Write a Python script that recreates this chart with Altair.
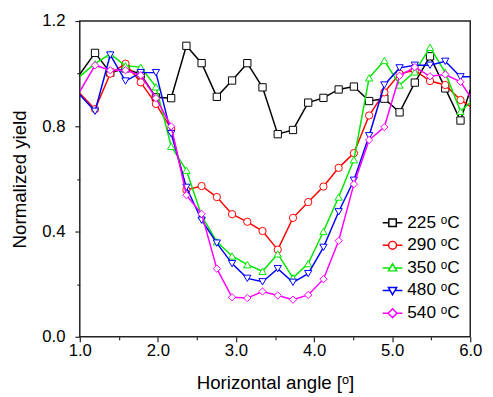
import altair as alt
import pandas as pd

# ---------------- data ----------------
angles = [1.0, 1.195, 1.39, 1.585, 1.78, 1.975, 2.17, 2.365, 2.56, 2.755, 2.95,
          3.145, 3.34, 3.535, 3.73, 3.925, 4.12, 4.315, 4.51, 4.705, 4.9, 5.095,
          5.29, 5.485, 5.68, 5.875, 6.0]

series_names = ["225 \u1d52C", "290 \u1d52C", "350 \u1d52C", "480 \u1d52C", "540 \u1d52C"]

y_225 = [0.998, 1.079, 1.004, 1.02, 0.997, 0.91, 0.907, 1.106, 1.04, 0.912, 0.974,
         1.04, 0.948, 0.77, 0.786, 0.89, 0.908, 0.94, 0.951, 0.896, 0.905, 0.853,
         0.966, 1.066, 0.944, 0.822, 0.938]
y_290 = [0.926, 0.865, 1.0, 1.038, 0.967, 0.885, 0.79, 0.558, 0.573, 0.531, 0.466,
         0.437, 0.402, 0.331, 0.452, 0.512, 0.571, 0.642, 0.698, 0.841, 0.929, 1.0,
         1.013, 0.972, 0.957, 0.90, 0.876]
y_350 = [0.99, 1.038, 1.075, 1.03, 1.025, 0.95, 0.724, 0.633, 0.46, 0.361, 0.307,
         0.274, 0.249, 0.315, 0.224, 0.278, 0.40, 0.531, 0.673, 0.984, 1.05, 0.957,
         1.007, 1.10, 1.005, 0.857, 0.89]
y_480 = [0.92, 0.857, 1.071, 0.972, 1.004, 1.004, 0.772, 0.568, 0.443, 0.356, 0.278,
         0.222, 0.209, 0.259, 0.207, 0.240, 0.34, 0.475, 0.595, 0.764, 0.957, 1.022,
         1.032, 1.032, 1.047, 0.988, 0.988]
y_540 = [0.932, 1.032, 1.013, 1.013, 0.994, 0.907, 0.80, 0.538, 0.467, 0.259, 0.150,
         0.147, 0.172, 0.157, 0.141, 0.159, 0.219, 0.365, 0.58, 0.748, 0.797, 0.992,
         1.025, 0.99, 0.997, 0.969, 0.913]

x_ticks = [1.0, 1.5, 2.0, 2.5, 3.0, 3.5, 4.0, 4.5, 5.0, 5.5, 6.0]
y_ticks = [0.0, 0.2, 0.4, 0.6, 0.8, 1.0, 1.2]

# ---------------- styles ----------------
colors = ["#000000", "#ff0000", "#00e600", "#0000ff", "#ff00ff"]
shapes = ["square", "circle", "triangle-up", "triangle-down", "diamond"]
legend_paths = [
    "M-1,0L-0.38,0M-0.38,-0.38L0.38,-0.38L0.38,0.38L-0.38,0.38ZM0.38,0L1,0",
    "M-1,0L-0.4,0M0.4,0A0.4,0.4,0,1,1,-0.4,0A0.4,0.4,0,1,1,0.4,0M0.4,0L1,0",
    "M-1,0L-0.245,0M0,-0.42L0.42,0.3L-0.42,0.3ZM0.245,0L1,0",
    "M-1,0L-0.245,0M0,0.42L0.42,-0.3L-0.42,-0.3ZM0.245,0L1,0",
    "M-1,0L-0.45,0M0,-0.45L0.45,0L0,0.45L-0.45,0ZM0.45,0L1,0",
]

rows = []
for name, ys in zip(series_names, [y_225, y_290, y_350, y_480, y_540]):
    for a, v in zip(angles, ys):
        rows.append({"angle": a, "value": v, "series": name})
df = pd.DataFrame(rows)

FONT = "Liberation Sans"

x_enc = alt.X(
    "angle:Q",
    scale=alt.Scale(domain=[1.0, 6.0], nice=False, zero=False),
    axis=alt.Axis(
        values=x_ticks,
        labelExpr="datum.value % 1 == 0 ? format(datum.value, '.1f') : ''",
        title="Horizontal angle [\u1d52]",
        tickSize={"condition": {"test": "datum.value % 1 == 0", "value": 5}, "value": 3},
        labelFlush=False,
        labelPadding=1,
        titlePadding=16,
    ),
)
y_enc = alt.Y(
    "value:Q",
    scale=alt.Scale(domain=[0.0, 1.2], nice=False, zero=False),
    axis=alt.Axis(
        values=y_ticks,
        labelExpr="round(datum.value * 5) % 2 == 0 ? format(datum.value, '.1f') : ''",
        title="Normalized yield",
        tickSize={"condition": {"test": "round(datum.value * 5) % 2 == 0", "value": 5}, "value": 3},
        labelFlush=False,
        labelPadding=10,
        titlePadding=13,
    ),
)

layers = []
for name, c, s in zip(series_names, colors, shapes):
    base = alt.Chart(df).transform_filter(alt.datum.series == name)
    layers.append(
        base.mark_line(color=c, strokeWidth=1.5, clip=True).encode(x=x_enc, y=y_enc)
    )
    layers.append(
        base.transform_filter("datum.angle > 1.001 && datum.angle < 5.999")
        .mark_point(shape=s, filled=True, fill="white", stroke=c, strokeWidth=1,
                    size=55, opacity=1, clip=True)
        .encode(x=x_enc, y=y_enc)
    )

legend_common = dict(
    title=None, orient="none", legendX=307, legendY=194, padding=0,
    symbolSize=400, symbolStrokeWidth=1.5, symbolOpacity=1,
    labelFont=FONT, labelFontSize=17.5, labelColor="#000", labelOffset=4,
    rowPadding=3,
)
legend_layer = alt.Chart(df).mark_point(opacity=0, filled=False, strokeWidth=1.5).encode(
    x=x_enc,
    y=y_enc,
    shape=alt.Shape("series:N", scale=alt.Scale(domain=series_names, range=legend_paths),
                    legend=alt.Legend(**legend_common)),
    stroke=alt.Stroke("series:N", scale=alt.Scale(domain=series_names, range=colors),
                      legend=alt.Legend(**legend_common)),
)
layers.append(legend_layer)

chart = (
    alt.layer(*layers)
    .properties(
        width=397, height=321,
        autosize=alt.AutoSizeParams(type="none"),
        padding={"left": 73, "top": 10, "right": 15, "bottom": 60},
    )
    .configure_view(stroke="#222", strokeWidth=1.5)
    .configure_axis(
        grid=False, domain=False,
        tickColor="#222", tickWidth=1.2,
        labelFont=FONT, labelFontSize=17, labelColor="#000",
        titleFont=FONT, titleFontSize=19, titleColor="#000", titleFontWeight="normal",
    )
)

chart.save("out.html", embed_options={"renderer": "svg", "actions": False})
